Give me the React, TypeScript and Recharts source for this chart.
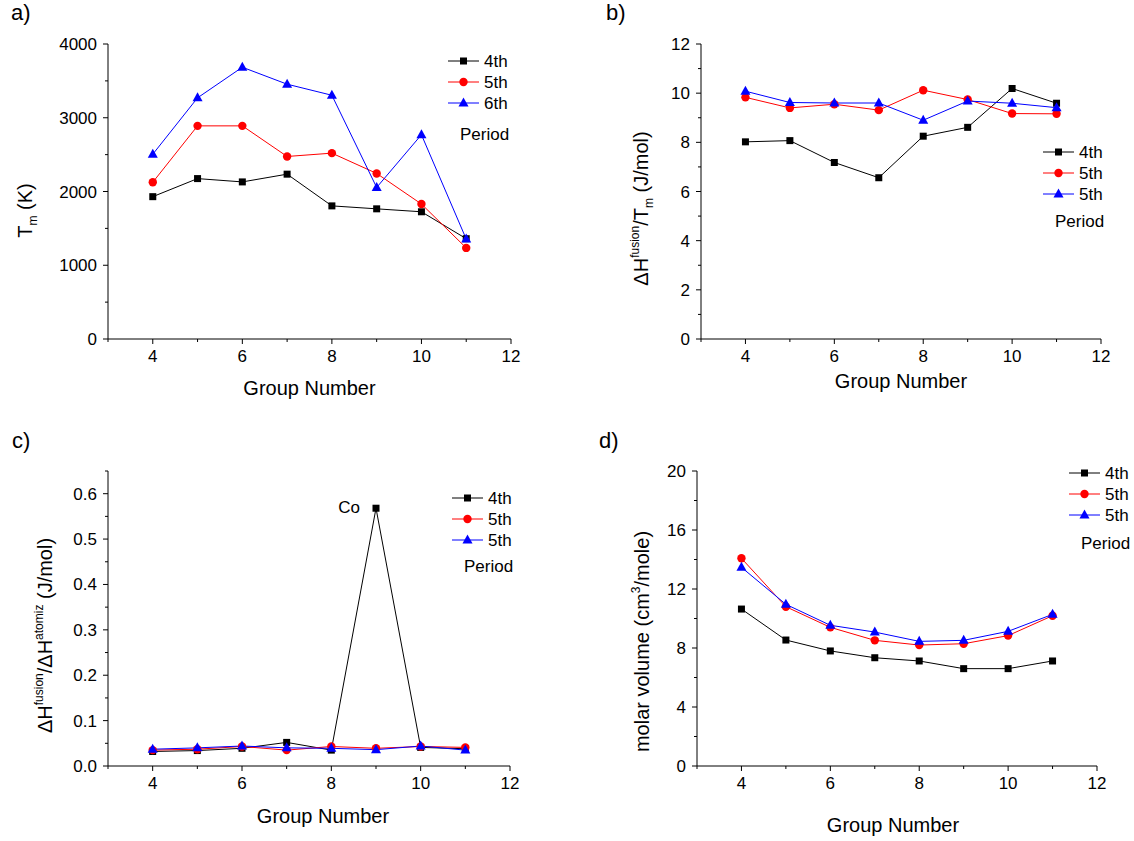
import type { ReactNode } from 'react';
import { LabelList, Legend, Line, LineChart, XAxis, YAxis } from 'recharts';

const FONT = '"Liberation Sans", Arial, Helvetica, sans-serif';

// d-block columns, Ti..Cu for the 4th period
const groups = [4, 5, 6, 7, 8, 9, 10, 11];
const period4Elements = ['Ti', 'V', 'Cr', 'Mn', 'Fe', 'Co', 'Ni', 'Cu'];
const labelledElements = ['Co'];

// a) melting temperature Tm (K)
const tmPeriod4 = [1930, 2175, 2130, 2235, 1805, 1765, 1725, 1360];
const tmPeriod5 = [2125, 2890, 2890, 2475, 2520, 2245, 1830, 1235];
const tmPeriod6 = [2505, 3270, 3685, 3455, 3305, 2055, 2770, 1355];

// b) ΔH fusion / Tm (J/mol)
const entropyPeriod4 = [8.02, 8.07, 7.18, 6.56, 8.25, 8.61, 10.19, 9.59];
const entropyPeriod5 = [9.83, 9.4, 9.55, 9.31, 10.12, 9.74, 9.17, 9.16];
const entropyPeriod6 = [10.08, 9.62, 9.6, 9.6, 8.9, 9.68, 9.59, 9.41];

// c) ΔH fusion / ΔH atomization
const ratioPeriod4 = [0.032, 0.034, 0.039, 0.052, 0.035, 0.568, 0.041, 0.038];
const ratioPeriod5 = [0.035, 0.037, 0.043, 0.035, 0.043, 0.039, 0.043, 0.041];
const ratioPeriod6 = [0.037, 0.04, 0.044, 0.04, 0.039, 0.036, 0.044, 0.035];

// d) molar volume (cm3/mole)
const volumePeriod4 = [10.64, 8.54, 7.8, 7.34, 7.12, 6.6, 6.6, 7.12];
const volumePeriod5 = [14.08, 10.8, 9.4, 8.52, 8.2, 8.29, 8.84, 10.19];
const volumePeriod6 = [13.47, 10.96, 9.54, 9.08, 8.45, 8.52, 9.13, 10.28];

const legendNamesA = ['4th', '5th', '6th'];
const legendNamesBCD = ['4th', '5th', '5th'];

// ticks: every entry gets a tick mark, only majors get a number
const xTicks = [3, 4, 5, 6, 7, 8, 9, 10, 11, 12];
const xMajorTicks = [4, 6, 8, 10, 12];
const tmTicks = [0, 500, 1000, 1500, 2000, 2500, 3000, 3500, 4000];
const tmMajorTicks = [0, 1000, 2000, 3000, 4000];
const entropyTicks = [0, 1, 2, 3, 4, 5, 6, 7, 8, 9, 10, 11, 12];
const entropyMajorTicks = [0, 2, 4, 6, 8, 10, 12];
const ratioTicks = [0, 0.05, 0.1, 0.15, 0.2, 0.25, 0.3, 0.35, 0.4, 0.45, 0.5, 0.55, 0.6, 0.65];
const ratioMajorTicks = [0, 0.1, 0.2, 0.3, 0.4, 0.5, 0.6];
const volumeTicks = [0, 2, 4, 6, 8, 10, 12, 14, 16, 18, 20];
const volumeMajorTicks = [0, 4, 8, 12, 16, 20];

const TICK_FONT = 17;

type Shape = 'square' | 'circle' | 'triangle';
const seriesStyle: { color: string; shape: Shape }[] = [
  { color: '#000000', shape: 'square' },
  { color: '#ff0000', shape: 'circle' },
  { color: '#0000ff', shape: 'triangle' },
];

interface SeriesDef {
  key: string;
  name: string;
  color: string;
  shape: Shape;
  values: number[];
}

const makeSeries = (names: string[], values: number[][]): SeriesDef[] =>
  values.map((v, i) => ({ key: `p${i + 4}`, name: names[i], ...seriesStyle[i], values: v }));

const isMajor = (list: number[], v: number) => list.some((m) => Math.abs(m - v) < 1e-9);

function Marker({ shape, color, cx, cy }: { shape: Shape; color: string; cx: number; cy: number }) {
  if (cx == null || cy == null) return null;
  if (shape === 'square') return <rect x={cx - 3.5} y={cy - 3.5} width={7} height={7} fill={color} />;
  if (shape === 'circle') return <circle cx={cx} cy={cy} r={4.2} fill={color} />;
  return <polygon points={`${cx},${cy - 5.5} ${cx - 5},${cy + 3.5} ${cx + 5},${cy + 3.5}`} fill={color} />;
}

function XTick(props: any) {
  const { x, y, payload } = props;
  const major = isMajor(xMajorTicks, payload.value);
  return (
    <g>
      <line x1={x} x2={x} y1={y} y2={y + (major ? 5 : 3)} stroke="#000" />
      {major && (
        <text x={x} y={y + 11} dy="0.71em" textAnchor="middle" fontSize={TICK_FONT} fontFamily={FONT} fill="#000">
          {payload.value}
        </text>
      )}
    </g>
  );
}

function YTick(props: any) {
  const { x, y, payload, major, format } = props;
  const isBig = isMajor(major, payload.value);
  return (
    <g>
      <line x1={x - (isBig ? 5 : 3)} x2={x} y1={y} y2={y} stroke="#000" />
      {isBig && (
        <text x={x - 11} y={y} dy="0.355em" textAnchor="end" fontSize={TICK_FONT} fontFamily={FONT} fill="#000">
          {format(payload.value)}
        </text>
      )}
    </g>
  );
}

function XTitle(props: any) {
  const { viewBox, drop, shift } = props;
  const cx = viewBox.x + viewBox.width / 2 + shift;
  return (
    <text x={cx} y={viewBox.y + drop} textAnchor="middle" fontSize={20} fontFamily={FONT} fill="#000">
      Group Number
    </text>
  );
}

function YTitle(props: any) {
  const { viewBox, title, gap, shift } = props;
  const cx = viewBox.x + viewBox.width - gap;
  const cy = viewBox.y + viewBox.height / 2 + shift;
  return (
    <text
      x={cx}
      y={cy}
      transform={`rotate(-90 ${cx} ${cy})`}
      textAnchor="middle"
      fontSize={20}
      fontFamily={FONT}
      fill="#000"
    >
      {title}
    </text>
  );
}

function ElementLabel(props: any) {
  const { x, y, index } = props;
  const name = period4Elements[index];
  if (!labelledElements.includes(name)) return null;
  return (
    <text x={x - 16} y={y + 5} textAnchor="end" fontSize={17} fontFamily={FONT} fill="#000">
      {name}
    </text>
  );
}

const sup = (s: string) => [
  <tspan key={`${s}-a`} fontSize={12} dy={-9}>
    {s}
  </tspan>,
];

interface Box {
  left: number;
  top: number;
  width: number;
  height: number;
}

interface PanelProps {
  tag: string;
  tagAt: { x: number; y: number };
  box: Box;
  plot: { left: number; top: number; right: number; bottom: number };
  series: SeriesDef[];
  yDomain: [number, number];
  yTicks: number[];
  yMajor: number[];
  yFormat: (v: number) => string;
  yTitle: ReactNode;
  yTitleGap: number;
  yTitleShift: number;
  xTitleDrop: number;
  xTitleShift: number;
  legendAt: { x: number; y: number; periodDy: number };
  annotate?: string;
}

function Panel(p: PanelProps) {
  const rows = groups.map((g, i) => {
    const row: Record<string, number> = { group: g };
    p.series.forEach((s) => {
      row[s.key] = s.values[i];
    });
    return row;
  });
  const xAxisHeight = 70;
  const margin = {
    top: p.plot.top - p.box.top,
    left: 0,
    right: p.box.left + p.box.width - p.plot.right,
    bottom: p.box.top + p.box.height - p.plot.bottom - xAxisHeight,
  };
  const shapes: Record<string, Shape> = {};
  p.series.forEach((s) => {
    shapes[s.key] = s.shape;
  });

  const renderLegend = (lp: any) => {
    const items = (lp.payload || []) as any[];
    const rowH = 21;
    return (
      <svg width={64} height={rowH * 2 + p.legendAt.periodDy + 24} style={{ display: 'block' }}>
        {items.map((it, i) => {
          const cy = 10 + i * rowH;
          return (
            <g key={i}>
              <line x1={0} x2={31} y1={cy} y2={cy} stroke={it.color} strokeWidth={1} />
              <Marker shape={shapes[it.dataKey]} color={it.color} cx={15.5} cy={cy} />
              <text x={36} y={cy} dy="0.355em" fontSize={17} fontFamily={FONT} fill="#000">
                {it.value}
              </text>
            </g>
          );
        })}
        <text x={12} y={10 + 2 * rowH + p.legendAt.periodDy} dy="0.355em" fontSize={17} fontFamily={FONT} fill="#000">
          Period
        </text>
      </svg>
    );
  };

  return (
    <div style={{ position: 'absolute', left: p.box.left, top: p.box.top, width: p.box.width, height: p.box.height }}>
      <LineChart width={p.box.width} height={p.box.height} data={rows} margin={margin}>
        <XAxis
          type="number"
          dataKey="group"
          domain={[3, 12]}
          ticks={xTicks}
          interval={0}
          height={xAxisHeight}
          tickSize={0}
          tickMargin={0}
          tickLine={false}
          stroke="#000"
          tick={<XTick />}
          label={<XTitle drop={p.xTitleDrop} shift={p.xTitleShift} />}
        />
        <YAxis
          type="number"
          domain={p.yDomain}
          ticks={p.yTicks}
          interval={0}
          width={p.plot.left - p.box.left}
          tickSize={0}
          tickMargin={0}
          tickLine={false}
          stroke="#000"
          tick={<YTick major={p.yMajor} format={p.yFormat} />}
          label={<YTitle title={p.yTitle} gap={p.yTitleGap} shift={p.yTitleShift} />}
        />
        <Legend
          layout="horizontal"
          verticalAlign="middle"
          align="center"
          content={renderLegend}
          wrapperStyle={{
            left: p.legendAt.x - p.box.left,
            top: p.legendAt.y - p.box.top - 10,
            width: 64,
          }}
        />
        {p.series.map((s) => (
          <Line
            key={s.key}
            type="linear"
            dataKey={s.key}
            name={s.name}
            stroke={s.color}
            strokeWidth={1}
            isAnimationActive={false}
            activeDot={false}
            dot={(d: any) => <Marker key={`${s.key}-${d.index}`} shape={s.shape} color={s.color} cx={d.cx} cy={d.cy} />}
          >
            {p.annotate === s.key && <LabelList dataKey={s.key} content={ElementLabel} />}
          </Line>
        ))}
      </LineChart>
      <div
        style={{
          position: 'absolute',
          left: p.tagAt.x - p.box.left,
          top: p.tagAt.y - p.box.top,
          fontFamily: FONT,
          fontSize: 22,
          lineHeight: '22px',
          color: '#000',
        }}
      >
        {p.tag}
      </div>
    </div>
  );
}

const intFormat = (v: number) => String(v);
const oneDecimal = (v: number) => v.toFixed(1);

export default function App() {
  return (
    <div
      style={{
        position: 'absolute',
        left: 0,
        top: 0,
        width: 1134,
        height: 841,
        overflow: 'hidden',
        background: '#fff',
      }}
    >
      <Panel
        tag="a)"
        tagAt={{ x: 11, y: 2 }}
        box={{ left: 0, top: 0, width: 567, height: 420 }}
        plot={{ left: 108, top: 44, right: 511, bottom: 339 }}
        series={makeSeries(legendNamesA, [tmPeriod4, tmPeriod5, tmPeriod6])}
        yDomain={[0, 4000]}
        yTicks={tmTicks}
        yMajor={tmMajorTicks}
        yFormat={intFormat}
        yTitle={[
          <tspan key="t">T</tspan>,
          <tspan key="m" fontSize={12} dy={5}>
            m
          </tspan>,
          <tspan key="k" dy={-5}>
            {' (K)'}
          </tspan>,
        ]}
        yTitleGap={76}
        yTitleShift={19}
        xTitleDrop={56}
        xTitleShift={0}
        legendAt={{ x: 448, y: 61, periodDy: 31 }}
      />
      <Panel
        tag="b)"
        tagAt={{ x: 606, y: 2 }}
        box={{ left: 567, top: 0, width: 567, height: 420 }}
        plot={{ left: 701, top: 44, right: 1101, bottom: 339 }}
        series={makeSeries(legendNamesBCD, [entropyPeriod4, entropyPeriod5, entropyPeriod6])}
        yDomain={[0, 12]}
        yTicks={entropyTicks}
        yMajor={entropyMajorTicks}
        yFormat={intFormat}
        yTitle={[
          <tspan key="h">{'\u0394H'}</tspan>,
          ...sup('fusion'),
          <tspan key="t" dy={9}>
            /T
          </tspan>,
          <tspan key="m" fontSize={12} dy={5}>
            m
          </tspan>,
          <tspan key="u" dy={-5}>
            {'  (J/mol)'}
          </tspan>,
        ]}
        yTitleGap={53}
        yTitleShift={17}
        xTitleDrop={49}
        xTitleShift={0}
        legendAt={{ x: 1043, y: 152, periodDy: 27 }}
      />
      <Panel
        tag="c)"
        tagAt={{ x: 12, y: 430 }}
        box={{ left: 0, top: 420, width: 567, height: 421 }}
        plot={{ left: 108, top: 471, right: 510, bottom: 766 }}
        series={makeSeries(legendNamesBCD, [ratioPeriod4, ratioPeriod5, ratioPeriod6])}
        yDomain={[0, 0.65]}
        yTicks={ratioTicks}
        yMajor={ratioMajorTicks}
        yFormat={oneDecimal}
        yTitle={[
          <tspan key="h">{'\u0394H'}</tspan>,
          ...sup('fusion'),
          <tspan key="s" dy={9}>
            {'/\u0394H'}
          </tspan>,
          <tspan key="at" fontSize={12} dy={-9}>
            atomiz
          </tspan>,
          <tspan key="u" dy={9}>
            {' (J/mol)'}
          </tspan>,
        ]}
        yTitleGap={56}
        yTitleShift={17}
        xTitleDrop={57}
        xTitleShift={14}
        legendAt={{ x: 452, y: 498, periodDy: 26 }}
        annotate="p4"
      />
      <Panel
        tag="d)"
        tagAt={{ x: 599, y: 430 }}
        box={{ left: 567, top: 420, width: 567, height: 421 }}
        plot={{ left: 697, top: 471, right: 1097, bottom: 766 }}
        series={makeSeries(legendNamesBCD, [volumePeriod4, volumePeriod5, volumePeriod6])}
        yDomain={[0, 20]}
        yTicks={volumeTicks}
        yMajor={volumeMajorTicks}
        yFormat={intFormat}
        yTitle={[
          <tspan key="a">molar volume (cm</tspan>,
          ...sup('3'),
          <tspan key="b" dy={9}>
            /mole)
          </tspan>,
        ]}
        yTitleGap={48}
        yTitleShift={23}
        xTitleDrop={66}
        xTitleShift={-4}
        legendAt={{ x: 1069, y: 473, periodDy: 28 }}
      />
    </div>
  );
}
